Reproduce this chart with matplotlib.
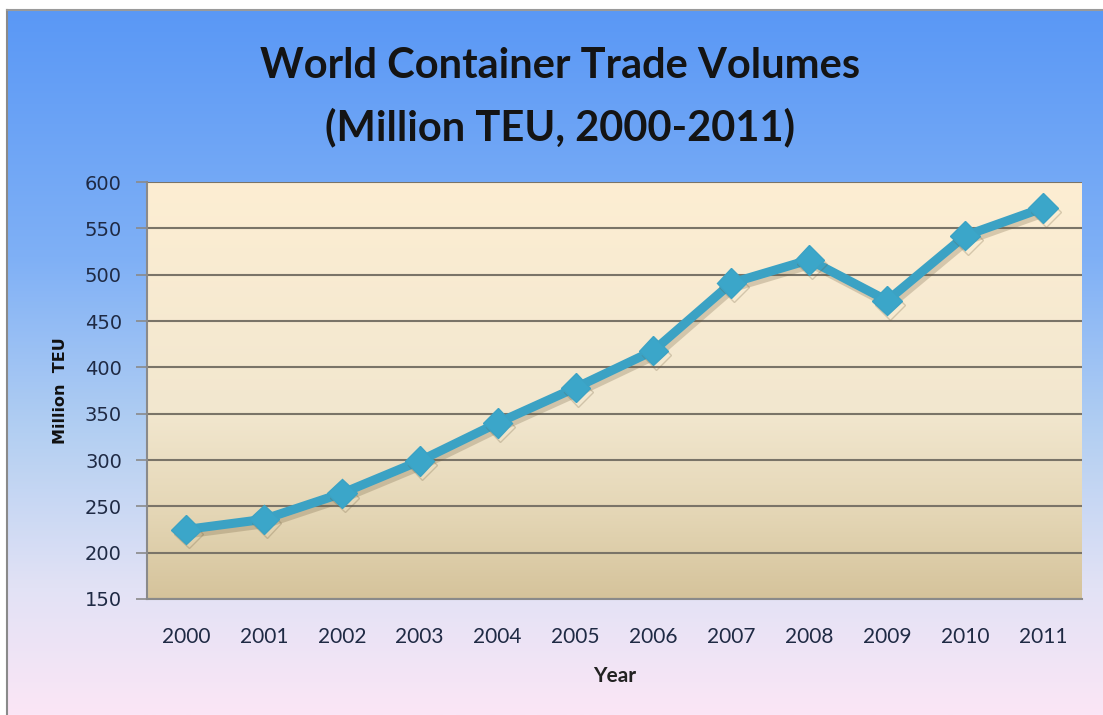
import matplotlib.pyplot as plt
import matplotlib.patheffects as pe
from matplotlib.colors import LinearSegmentedColormap
import numpy as np

years = ['2000', '2001', '2002', '2003', '2004', '2005',
         '2006', '2007', '2008', '2009', '2010', '2011']
teu = [225, 236, 264, 299, 340, 378, 418, 491, 516, 472, 542, 572]
yticks = [150, 200, 250, 300, 350, 400, 450, 500, 550, 600]

plt.rcParams['font.family'] = ['Lato', 'DejaVu Sans']

W, H = 1103, 715
fig = plt.figure(figsize=(W / 100, H / 100), dpi=100)
fig.patch.set_facecolor('white')

# background gradient (blue at top -> pale pink at bottom)
bg = fig.add_axes([7 / W, 0, 1 - 7 / W, 1 - 10 / H])
bg_cmap = LinearSegmentedColormap.from_list(
    'bg', [(0, '#5a98f5'), (0.35, '#7fb0f6'), (0.6, '#b3cff2'),
           (0.82, '#e2e2f5'), (1, '#fbe6f6')])
bg.imshow(np.linspace(0, 1, 256).reshape(-1, 1), cmap=bg_cmap,
          aspect='auto', extent=[0, 1, 0, 1])
bg.set_xlim(0, 1)
bg.set_ylim(0, 1)
bg.set_xticks([])
bg.set_yticks([])
for s in ['right', 'bottom']:
    bg.spines[s].set_visible(False)
bg.spines['left'].set_color('#8a8a8a')
bg.spines['top'].set_color('#9a9a9a')
bg.spines['left'].set_linewidth(1.5)
bg.spines['top'].set_linewidth(1.5)

# plot area
x0, x1, y0, y1 = 147, 1082, 182, 599
ax = fig.add_axes([x0 / W, 1 - y1 / H, (x1 - x0) / W, (y1 - y0) / H])
ax_cmap = LinearSegmentedColormap.from_list(
    'pa', [(0, '#fdeed3'), (0.55, '#f2e7cf'), (0.8, '#e4d6b5'), (1, '#d5c39b')])
ax.imshow(np.linspace(0, 1, 256).reshape(-1, 1), cmap=ax_cmap,
          aspect='auto', extent=[-0.5, 11.5, 150, 600], zorder=0)

x = np.arange(len(years))
ax.plot(x, teu, color='#3ba2c4', linewidth=6.5, marker='D', markersize=15,
        markerfacecolor='#3ba6c9', markeredgecolor='#3ba2c4',
        solid_joinstyle='miter', zorder=3,
        path_effects=[pe.SimpleLineShadow(offset=(2, -3), alpha=0.25, shadow_color='#6b5a3a'),
                      pe.Normal()])

ax.set_xlim(-0.5, 11.5)
ax.set_ylim(150, 600)
ax.set_yticks(yticks)
ax.set_xticks(x)
ax.set_xticklabels(years)
ax.grid(axis='y', color='#7a7468', linewidth=1.5, zorder=1)
ax.set_axisbelow(True)
ax.tick_params(axis='y', length=8, color='#8a8a8a', width=1.2, pad=10,
               labelsize=14, labelcolor='#1f2a44')
for lb in ax.get_yticklabels():
    lb.set_family(['DejaVu Sans'])
ax.tick_params(axis='x', length=0, pad=20, labelsize=15, labelcolor='#1f2a44')
for s in ['top', 'right']:
    ax.spines[s].set_visible(False)
ax.spines['left'].set_color('#8a8a8a')
ax.spines['bottom'].set_color('#8a8a8a')
ax.spines['left'].set_linewidth(1.5)
ax.spines['bottom'].set_linewidth(1.5)

ax.set_ylabel('Million  TEU', fontsize=11.5, fontweight='bold', color='#111111',
              labelpad=12, family=['DejaVu Sans'])
ax.set_xlabel('Year', fontsize=15, fontweight='bold', color='#222222', labelpad=14)

fig.text(560 / W, 1 - 66 / H, 'World Container Trade Volumes', ha='center', va='center',
         fontsize=30, fontweight='bold', color='#141414')
fig.text(560 / W, 1 - 127 / H, '(Million TEU, 2000-2011)', ha='center', va='center',
         fontsize=30, fontweight='bold', color='#141414')

fig.savefig('out.png', dpi=100)
